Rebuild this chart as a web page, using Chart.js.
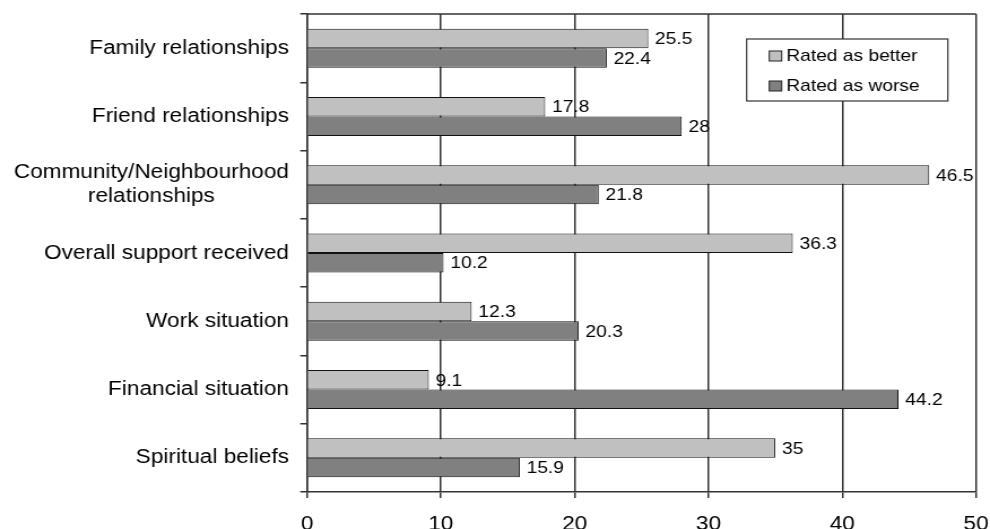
<!DOCTYPE html>
<html>
<head>
<meta charset="utf-8">
<script src="https://cdn.jsdelivr.net/npm/chart.js@4.4.1/dist/chart.umd.min.js"></script>
<style>
  html, body { margin: 0; padding: 0; background: #fff; overflow: hidden; width: 990px; height: 529px; }
  /* the chart is laid out narrower and widened horizontally */
  #wrap { width: 876px; height: 545px; transform: scaleX(1.1301); transform-origin: 0 0; }
  canvas { display: block; }
</style>
</head>
<body>
<div id="wrap"><canvas id="chart" width="876" height="545"></canvas></div>
<script>
const categories = [
  'Family relationships',
  'Friend relationships',
  ['Community/Neighbourhood', 'relationships'],
  'Overall support received',
  'Work situation',
  'Financial situation',
  'Spiritual beliefs'
];
const seriesNames = ['Rated as better', 'Rated as worse'];
const ratedBetter = [25.5, 17.8, 46.5, 36.3, 12.3, 9.1, 35];
const ratedWorse = [22.4, 28, 21.8, 10.2, 20.3, 44.2, 15.9];
const xTicks = [0, 10, 20, 30, 40, 50];

const FONT = "'Liberation Sans', Arial, sans-serif";
const LINE = '#333333';
const COLORS = ['#C0C0C0', '#808080'];

Chart.defaults.font.family = FONT;
Chart.defaults.color = '#000';

// category names to the left of the axis: single lines right-aligned, stacked lines centred on each other
const categoryLabels = {
  id: 'categoryLabels',
  afterDraw(chart) {
    const ctx = chart.ctx;
    const y = chart.scales.y;
    const right = y.right - 6 - 10;
    ctx.save();
    ctx.font = '20px ' + FONT;
    ctx.fillStyle = '#000';
    ctx.textAlign = 'center';
    ctx.textBaseline = 'middle';
    chart.data.labels.forEach((lab, i) => {
      const lines = Array.isArray(lab) ? lab : [lab];
      const w = Math.max(...lines.map(l => ctx.measureText(l).width));
      const cx = right - w / 2;
      const cy = y.getPixelForValue(i);
      const lh = 24;
      lines.forEach((l, k) => ctx.fillText(l, cx, cy - (lines.length - 1) * lh / 2 + k * lh));
    });
    ctx.restore();
  }
};

// value printed just past the end of each bar
const valueLabels = {
  id: 'valueLabels',
  afterDatasetsDraw(chart) {
    const ctx = chart.ctx;
    ctx.save();
    ctx.font = '17px ' + FONT;
    ctx.fillStyle = '#000';
    ctx.textAlign = 'left';
    ctx.textBaseline = 'middle';
    chart.data.datasets.forEach((ds, di) => {
      chart.getDatasetMeta(di).data.forEach((bar, i) => {
        ctx.fillText(String(ds.data[i]), bar.x + 6, bar.y + 1);
      });
    });
    ctx.restore();
  }
};

// top edge of the plot frame and the boxed legend in the upper right
const frameAndLegend = {
  id: 'frameAndLegend',
  afterDraw(chart) {
    const ctx = chart.ctx;
    const a = chart.chartArea;
    ctx.save();
    ctx.strokeStyle = LINE;
    ctx.lineWidth = 1.5;
    ctx.beginPath();
    ctx.moveTo(a.left, a.top);
    ctx.lineTo(a.right, a.top);
    ctx.stroke();

    const bw = 178, bh = 62;
    const bx = a.right - 25 - bw;
    const by = a.top + 25;
    ctx.fillStyle = '#fff';
    ctx.fillRect(bx, by, bw, bh);
    ctx.lineWidth = 1.2;
    ctx.strokeRect(bx, by, bw, bh);

    ctx.font = '17px ' + FONT;
    ctx.textAlign = 'left';
    ctx.textBaseline = 'middle';
    chart.data.datasets.forEach((ds, i) => {
      const cy = by + 17 + i * 30;
      ctx.fillStyle = ds.backgroundColor;
      ctx.fillRect(bx + 20, cy - 5, 11, 10);
      ctx.lineWidth = 1;
      ctx.strokeStyle = '#222';
      ctx.strokeRect(bx + 20, cy - 5, 11, 10);
      ctx.fillStyle = '#000';
      ctx.fillText(ds.label, bx + 35, cy);
    });
    ctx.restore();
  }
};

new Chart(document.getElementById('chart'), {
  type: 'bar',
  data: {
    labels: categories,
    datasets: [
      { label: seriesNames[0], data: ratedBetter, backgroundColor: COLORS[0], borderColor: '#111', borderWidth: 1 },
      { label: seriesNames[1], data: ratedWorse, backgroundColor: COLORS[1], borderColor: '#111', borderWidth: 1 }
    ]
  },
  options: {
    indexAxis: 'y',
    responsive: false,
    devicePixelRatio: 1,
    animation: false,
    layout: { padding: { top: 14, right: 12.3, left: 0, bottom: 0 } },
    datasets: { bar: { categoryPercentage: 0.571, barPercentage: 1 } },
    plugins: { legend: { display: false }, tooltip: { enabled: false } },
    scales: {
      x: {
        min: 0,
        max: 50,
        afterBuildTicks: s => { s.ticks = xTicks.map(v => ({ value: v })); },
        afterFit: s => { s.height = 53; s.paddingLeft = 0; s.paddingRight = 0; },
        grid: { color: LINE, lineWidth: 1.5, drawTicks: true, tickLength: 6 },
        border: { display: true, color: LINE, width: 1.5 },
        ticks: { font: { size: 20 }, color: '#000', padding: 14, maxRotation: 0 }
      },
      y: {
        afterFit: s => { s.width = 271.7; s.paddingTop = 0; s.paddingBottom = 0; },
        grid: { drawOnChartArea: false, drawTicks: true, tickLength: 6, offset: true, color: LINE, lineWidth: 1.5 },
        border: { display: true, color: LINE, width: 1.5 },
        ticks: { display: false }
      }
    }
  },
  plugins: [categoryLabels, valueLabels, frameAndLegend]
});
</script>
</body>
</html>
